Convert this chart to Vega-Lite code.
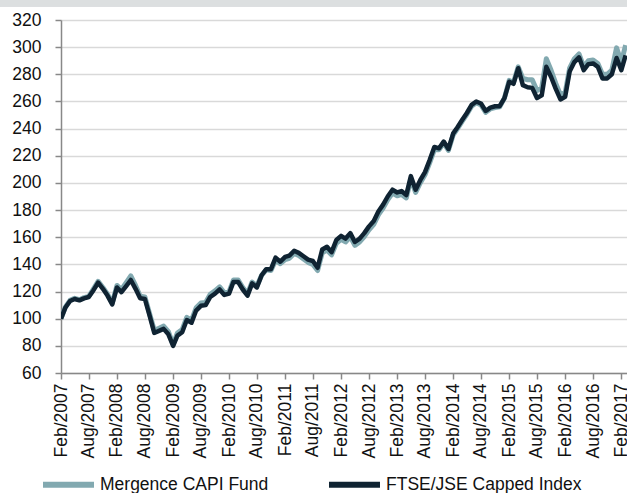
{
  "$schema": "https://vega.github.io/schema/vega-lite/v6.json",
  "width": 566,
  "height": 353,
  "autosize": {"type": "none"},
  "padding": {"left": 61, "top": 20, "right": 0, "bottom": 120},
  "background": "white",
  "config": {
    "view": {"stroke": null},
    "font": "Liberation Sans",
    "axis": {"labelFont": "Liberation Sans", "labelFontSize": 17.5, "labelColor": "#111111", "domainColor": "#888888", "domainWidth": 1.5, "tickColor": "#888888", "tickWidth": 1.5, "tickSize": 6, "title": null},
    "legend": {"labelFont": "Liberation Sans", "labelFontSize": 17.5, "labelColor": "#111111"}
  },
  "data": {"values": [
    {"date":"2007-02-01","fund":100,"index":100},
    {"date":"2007-03-01","fund":108.5,"index":108},
    {"date":"2007-04-01","fund":113.5,"index":113},
    {"date":"2007-05-01","fund":115,"index":114.5},
    {"date":"2007-06-01","fund":114,"index":113.5},
    {"date":"2007-07-01","fund":115.5,"index":115},
    {"date":"2007-08-01","fund":116.5,"index":116},
    {"date":"2007-09-01","fund":122,"index":121},
    {"date":"2007-10-01","fund":127.5,"index":126.5},
    {"date":"2007-11-01","fund":123,"index":122},
    {"date":"2007-12-01","fund":118,"index":117},
    {"date":"2008-01-01","fund":111.5,"index":110.5},
    {"date":"2008-02-01","fund":124.5,"index":123},
    {"date":"2008-03-01","fund":121.5,"index":119.5},
    {"date":"2008-04-01","fund":126.5,"index":124},
    {"date":"2008-05-01","fund":131.5,"index":128.5},
    {"date":"2008-06-01","fund":124.5,"index":122},
    {"date":"2008-07-01","fund":116.5,"index":115},
    {"date":"2008-08-01","fund":116,"index":114.5},
    {"date":"2008-09-01","fund":103.5,"index":102},
    {"date":"2008-10-01","fund":91.5,"index":89.5},
    {"date":"2008-11-01","fund":93,"index":91},
    {"date":"2008-12-01","fund":94.5,"index":92.5},
    {"date":"2009-01-01","fund":90.5,"index":88.5},
    {"date":"2009-02-01","fund":81,"index":80},
    {"date":"2009-03-01","fund":89.5,"index":87.5},
    {"date":"2009-04-01","fund":92,"index":90},
    {"date":"2009-05-01","fund":101,"index":99},
    {"date":"2009-06-01","fund":99,"index":97},
    {"date":"2009-07-01","fund":108,"index":106},
    {"date":"2009-08-01","fund":111.5,"index":109.5},
    {"date":"2009-09-01","fund":112,"index":110},
    {"date":"2009-10-01","fund":118,"index":116},
    {"date":"2009-11-01","fund":120.5,"index":118.5},
    {"date":"2009-12-01","fund":123.5,"index":121.5},
    {"date":"2010-01-01","fund":119,"index":117.5},
    {"date":"2010-02-01","fund":120,"index":118.5},
    {"date":"2010-03-01","fund":128.5,"index":127},
    {"date":"2010-04-01","fund":128.5,"index":127},
    {"date":"2010-05-01","fund":123,"index":121.5},
    {"date":"2010-06-01","fund":118.5,"index":117},
    {"date":"2010-07-01","fund":127,"index":126},
    {"date":"2010-08-01","fund":124,"index":123},
    {"date":"2010-09-01","fund":132,"index":132},
    {"date":"2010-10-01","fund":136,"index":136.5},
    {"date":"2010-11-01","fund":135.5,"index":136.5},
    {"date":"2010-12-01","fund":143,"index":145},
    {"date":"2011-01-01","fund":140.5,"index":142},
    {"date":"2011-02-01","fund":143.5,"index":145.5},
    {"date":"2011-03-01","fund":144.5,"index":146.5},
    {"date":"2011-04-01","fund":148,"index":150},
    {"date":"2011-05-01","fund":146.5,"index":148.5},
    {"date":"2011-06-01","fund":144,"index":146},
    {"date":"2011-07-01","fund":141.5,"index":143.5},
    {"date":"2011-08-01","fund":140,"index":142.5},
    {"date":"2011-09-01","fund":135.5,"index":137.5},
    {"date":"2011-10-01","fund":148.5,"index":151},
    {"date":"2011-11-01","fund":150.5,"index":153},
    {"date":"2011-12-01","fund":147,"index":149},
    {"date":"2012-01-01","fund":155.5,"index":158},
    {"date":"2012-02-01","fund":158.5,"index":161},
    {"date":"2012-03-01","fund":156.5,"index":159},
    {"date":"2012-04-01","fund":160.5,"index":163},
    {"date":"2012-05-01","fund":154,"index":156.5},
    {"date":"2012-06-01","fund":156.5,"index":159},
    {"date":"2012-07-01","fund":160.5,"index":163},
    {"date":"2012-08-01","fund":165.5,"index":168},
    {"date":"2012-09-01","fund":169.5,"index":172},
    {"date":"2012-10-01","fund":176.5,"index":179},
    {"date":"2012-11-01","fund":181.5,"index":184},
    {"date":"2012-12-01","fund":187.5,"index":190},
    {"date":"2013-01-01","fund":192.5,"index":195},
    {"date":"2013-02-01","fund":190.5,"index":193},
    {"date":"2013-03-01","fund":191.5,"index":194},
    {"date":"2013-04-01","fund":189,"index":191},
    {"date":"2013-05-01","fund":203,"index":205},
    {"date":"2013-06-01","fund":193,"index":195},
    {"date":"2013-07-01","fund":200,"index":202},
    {"date":"2013-08-01","fund":206,"index":208},
    {"date":"2013-09-01","fund":215,"index":217},
    {"date":"2013-10-01","fund":224.5,"index":226.5},
    {"date":"2013-11-01","fund":224.5,"index":225.5},
    {"date":"2013-12-01","fund":229.5,"index":230.5},
    {"date":"2014-01-01","fund":224,"index":225},
    {"date":"2014-02-01","fund":235.5,"index":236.5},
    {"date":"2014-03-01","fund":240,"index":241},
    {"date":"2014-04-01","fund":245.5,"index":246.5},
    {"date":"2014-05-01","fund":250.5,"index":251.5},
    {"date":"2014-06-01","fund":256.5,"index":257.5},
    {"date":"2014-07-01","fund":259,"index":260},
    {"date":"2014-08-01","fund":257.5,"index":258.5},
    {"date":"2014-09-01","fund":252,"index":253},
    {"date":"2014-10-01","fund":254.5,"index":255.5},
    {"date":"2014-11-01","fund":255.5,"index":256.5},
    {"date":"2014-12-01","fund":256,"index":256.5},
    {"date":"2015-01-01","fund":262.5,"index":262.5},
    {"date":"2015-02-01","fund":275.5,"index":274.5},
    {"date":"2015-03-01","fund":274,"index":273},
    {"date":"2015-04-01","fund":285.5,"index":284.5},
    {"date":"2015-05-01","fund":277,"index":272},
    {"date":"2015-06-01","fund":276,"index":270.5},
    {"date":"2015-07-01","fund":276,"index":270},
    {"date":"2015-08-01","fund":268,"index":262.5},
    {"date":"2015-09-01","fund":270,"index":264.5},
    {"date":"2015-10-01","fund":291.5,"index":285.5},
    {"date":"2015-11-01","fund":283,"index":278},
    {"date":"2015-12-01","fund":273.5,"index":269.5},
    {"date":"2016-01-01","fund":265,"index":261.5},
    {"date":"2016-02-01","fund":266.5,"index":263.5},
    {"date":"2016-03-01","fund":284.5,"index":282},
    {"date":"2016-04-01","fund":291.5,"index":289},
    {"date":"2016-05-01","fund":295,"index":292.5},
    {"date":"2016-06-01","fund":285.5,"index":283},
    {"date":"2016-07-01","fund":290,"index":287.5},
    {"date":"2016-08-01","fund":290.5,"index":288},
    {"date":"2016-09-01","fund":288,"index":285.5},
    {"date":"2016-10-01","fund":280,"index":277},
    {"date":"2016-11-01","fund":280,"index":277},
    {"date":"2016-12-01","fund":283,"index":280},
    {"date":"2017-01-01","fund":299.5,"index":292},
    {"date":"2017-02-01","fund":289,"index":283},
    {"date":"2017-03-01","fund":301.5,"index":294}
  ]},
  "layer": [
    {
      "mark": {"type": "line", "strokeWidth": 5, "strokeJoin": "round", "strokeCap": "butt", "clip": true},
      "encoding": {
        "x": {"field": "date", "type": "temporal",
          "scale": {"type": "utc", "domain": [{"year": 2007, "month": 2, "date": 1, "utc": true}, {"year": 2017, "month": 3, "date": 10, "utc": true}]},
          "axis": {"format": "%b/%Y", "labelAngle": -90, "labelPadding": 4, "grid": false, "labelOverlap": false, "labelBound": false, "labelFlush": false, "tickCount": 40,
            "values": [
              {"year":2007,"month":2,"date":1,"utc":true},{"year":2007,"month":8,"date":1,"utc":true},
              {"year":2008,"month":2,"date":1,"utc":true},{"year":2008,"month":8,"date":1,"utc":true},
              {"year":2009,"month":2,"date":1,"utc":true},{"year":2009,"month":8,"date":1,"utc":true},
              {"year":2010,"month":2,"date":1,"utc":true},{"year":2010,"month":8,"date":1,"utc":true},
              {"year":2011,"month":2,"date":1,"utc":true},{"year":2011,"month":8,"date":1,"utc":true},
              {"year":2012,"month":2,"date":1,"utc":true},{"year":2012,"month":8,"date":1,"utc":true},
              {"year":2013,"month":2,"date":1,"utc":true},{"year":2013,"month":8,"date":1,"utc":true},
              {"year":2014,"month":2,"date":1,"utc":true},{"year":2014,"month":8,"date":1,"utc":true},
              {"year":2015,"month":2,"date":1,"utc":true},{"year":2015,"month":8,"date":1,"utc":true},
              {"year":2016,"month":2,"date":1,"utc":true},{"year":2016,"month":8,"date":1,"utc":true},
              {"year":2017,"month":2,"date":1,"utc":true}
            ]}},
        "y": {"field": "fund", "type": "quantitative",
          "scale": {"domain": [60, 320], "nice": false, "zero": false},
          "axis": {"values": [60,80,100,120,140,160,180,200,220,240,260,280,300,320], "tickCount": 40, "labelPadding": 14, "grid": true, "gridColor": "#D9D9D9", "gridWidth": 1.5, "labelOverlap": false, "labelBound": false, "labelFlush": false}},
        "stroke": {"datum": "Mergence CAPI Fund", "type": "nominal",
          "scale": {"domain": ["Mergence CAPI Fund", "FTSE/JSE Capped Index"], "range": ["#82A9B0", "#0F2332"]},
          "legend": {"orient": "none", "legendX": -21, "legendY": 436, "direction": "horizontal", "columns": 2, "columnPadding": 48, "symbolType": "stroke", "symbolSize": 2600, "symbolStrokeWidth": 6, "labelOffset": 3, "padding": 0, "title": null, "labelLimit": 400}}
      }
    },
    {
      "mark": {"type": "line", "strokeWidth": 4.5, "strokeJoin": "round", "strokeCap": "butt", "clip": true},
      "encoding": {
        "x": {"field": "date", "type": "temporal"},
        "y": {"field": "index", "type": "quantitative"},
        "stroke": {"datum": "FTSE/JSE Capped Index", "type": "nominal"}
      }
    },
    {
      "mark": {"type": "rect", "clip": false, "color": "#DCDFE0"},
      "encoding": {
        "x": {"datum": {"year": 2006, "month": 1, "date": 1, "utc": true}, "type": "temporal"},
        "x2": {"datum": {"year": 2017, "month": 6, "date": 1, "utc": true}},
        "y": {"datum": 329.8, "type": "quantitative"},
        "y2": {"datum": 336}
      }
    }
  ]
}
